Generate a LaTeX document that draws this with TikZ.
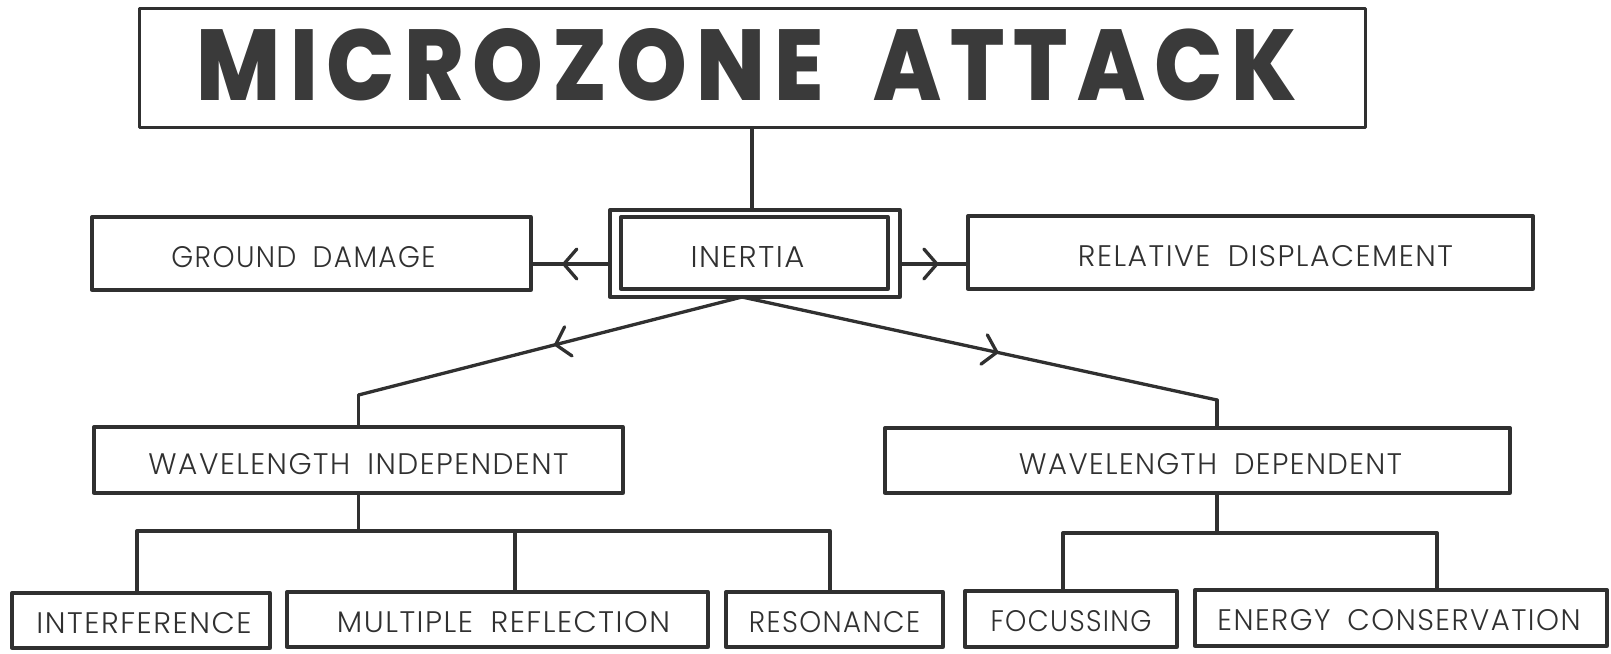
\documentclass[tikz,border=0pt]{standalone}
\usepackage{fontspec}
\usepackage{graphicx}
\usetikzlibrary{arrows.meta,decorations.markings}
\IfFontExistsTF{Poppins Light}{\newfontfamily\lblfont{Poppins Light}[LetterSpace=5,WordSpace=1.8]}{\newfontfamily\lblfont{Poppins}[LetterSpace=5,WordSpace=1.8]}
\IfFontExistsTF{Poppins ExtraBold}{\newfontfamily\ttlfont{Poppins ExtraBold}[LetterSpace=10]}
  {\IfFontExistsTF{Poppins Bold}{\newfontfamily\ttlfont{Poppins Bold}[LetterSpace=10]}{\newfontfamily\ttlfont{Poppins}[LetterSpace=10]}}
\definecolor{ink}{RGB}{48,48,48}
\definecolor{titleink}{RGB}{58,58,58}
% #1 horizontal offset, #2 width, #3 text
\newcommand\lbl[3][0]{\hspace*{#1pt}\hspace*{#1pt}\resizebox{#2pt}{21pt}{\lblfont #3}}
\begin{document}
\begin{tikzpicture}[x=1pt,y=-1pt,
  boxnode/.style={draw=ink, line width=3.3pt, line join=round, inner sep=0pt,
    text=ink, text height=28pt, text depth=0pt},
  conn/.style={draw=ink, line width=3.3pt, line join=round, line cap=round},
  chev/.style={conn, postaction={decorate},
    decoration={markings, mark=at position #1 with
      {\arrow[ink, line width=3.3pt]{Straight Barb[length=13pt,width=30pt,round]}}}}]
\useasboundingbox (0,0) rectangle (1611,653);
% title
\node[boxnode, line width=3pt, minimum width=1226pt, minimum height=119pt, text height=72pt,
  text depth=7pt, text=titleink] (title) at (752,67.5)
  {\resizebox{1100pt}{72pt}{\ttlfont MICROZONE\hspace{0.55em}ATTACK}\hspace*{10pt}};
% second row
\node[boxnode, minimum width=267pt, minimum height=72pt] (inertia) at (754.5,253)
  {\lbl[-7]{114}{INERTIA}};
\node[draw=ink, line width=3.3pt, line join=round, inner sep=0pt,
  minimum width=290pt, minimum height=87pt] (inertiaO) at (755,253.5) {};
\node[boxnode, minimum width=439pt, minimum height=73pt] (gd) at (311.5,253.5)
  {\lbl[-8]{264}{GROUND DAMAGE}};
\node[boxnode, minimum width=565pt, minimum height=73pt] (rd) at (1250.5,252.5)
  {\lbl[15]{375}{RELATIVE DISPLACEMENT}};
% third row
\node[boxnode, minimum width=529pt, minimum height=66pt] (wi) at (358.5,460)
  {\lbl{420}{WAVELENGTH INDEPENDENT}};
\node[boxnode, minimum width=625pt, minimum height=65pt] (wd) at (1197.5,460.5)
  {\lbl[13]{383}{WAVELENGTH DEPENDENT}};
% bottom row
\node[boxnode, minimum width=258pt, minimum height=55pt, text height=25pt] (intf) at (141,620.5)
  {\lbl[3]{215}{INTERFERENCE}};
\node[boxnode, minimum width=421pt, minimum height=55pt, text height=25pt] (mr) at (497.5,619.5)
  {\lbl[6]{333}{MULTIPLE REFLECTION}};
\node[boxnode, minimum width=217pt, minimum height=55pt, text height=25pt] (res) at (834.5,619.5)
  {\lbl{171}{RESONANCE}};
\node[boxnode, minimum width=212pt, minimum height=56pt, text height=25pt] (foc) at (1071,619)
  {\lbl{161}{FOCUSSING}};
\node[boxnode, minimum width=412pt, minimum height=56pt, text height=25pt] (ec) at (1401,618)
  {\lbl[-2]{363}{ENERGY CONSERVATION}};
% helper coordinates
\coordinate (hl) at (0,264);
\coordinate (ib) at (742,297);
\coordinate (lk) at (358.5,395);
\coordinate (rk) at (1217,400);
\coordinate (busA) at (0,531);
\coordinate (busB) at (0,533);
\coordinate (d1) at (137,0);
\coordinate (d2) at (515,0);
\coordinate (d3) at (830,0);
\coordinate (d4) at (1063,0);
\coordinate (d5) at (1437,0);
% connectors
\draw[conn] (title.south) -- (title.south |- inertiaO.north);
\draw[chev=0.61] (inertiaO.west |- hl) -- (gd.east |- hl);
\draw[chev=0.57] (inertiaO.east |- hl) -- (rd.west |- hl);
\draw[chev=0.49] (ib) -- (lk);
\draw[conn] (lk) -- (lk |- wi.north);
\draw[chev=0.54] (ib) -- (rk);
\draw[conn] (rk) -- (rk |- wd.north);
\draw[conn] (wi.south) -- (wi.south |- busA);
\draw[conn] (d1 |- intf.north) -- (d1 |- busA) -- (d3 |- busA) -- (d3 |- res.north);
\draw[conn] (d2 |- busA) -- (d2 |- mr.north);
\draw[conn] (rk |- wd.south) -- (rk |- busB);
\draw[conn] (d4 |- foc.north) -- (d4 |- busB) -- (d5 |- busB) -- (d5 |- ec.north);
\end{tikzpicture}
\end{document}
